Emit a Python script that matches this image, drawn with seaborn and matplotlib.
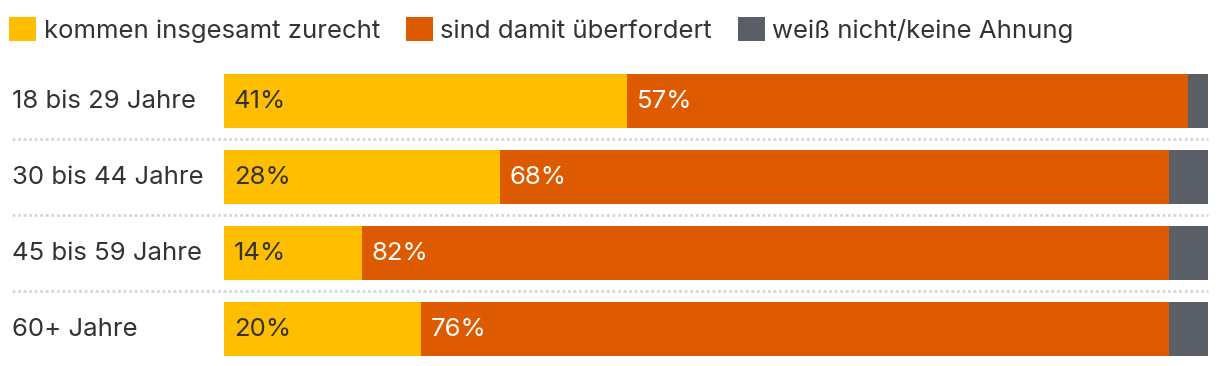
import matplotlib
matplotlib.use("Agg")
import matplotlib.pyplot as plt
from matplotlib.patches import Patch
import seaborn as sns
import pandas as pd
import numpy as np

# data
groups = ["18 bis 29 Jahre", "30 bis 44 Jahre", "45 bis 59 Jahre", "60+ Jahre"]
zurecht = [41, 28, 14, 20]
ueberfordert = [57, 68, 82, 76]
weiss_nicht = [2, 4, 4, 4]
series_names = ["kommen insgesamt zurecht", "sind damit überfordert", "weiß nicht/keine Ahnung"]
colors = ["#FFBE00", "#DD5A00", "#5A5E66"]

sns.set_theme(style="white")
plt.rcParams["font.family"] = ["Inter", "DejaVu Sans"]

W, H = 1220, 366
fig = plt.figure(figsize=(W / 100, H / 100), dpi=100)
# axes from x=224..1208 px, y=63..367 px (4 rows of 76 px)
ax = fig.add_axes([224 / W, (H - 367) / H, 984 / W, 304 / H])

df = pd.DataFrame({"group": groups, "a": zurecht, "b": ueberfordert, "c": weiss_nicht})
df["cum_a"] = df["a"]
df["cum_b"] = df["a"] + df["b"]
df["cum_c"] = df["a"] + df["b"] + df["c"]

bar_h = 54 / 76
for col, color in zip(["cum_c", "cum_b", "cum_a"], colors[::-1]):
    sns.barplot(data=df, x=col, y="group", orient="h", color=color,
                width=bar_h, saturation=1, ax=ax, linewidth=0)

ax.set_xlim(0, 100)
ax.set_ylim(3.5, -0.5)
ax.axis("off")

# value labels
fs = 18.5
for i in range(len(groups)):
    ax.text(1.0, i, f"{zurecht[i]}%", va="center", ha="left",
            fontsize=fs, color="#333333")
    ax.text(df["a"][i] + 1.0, i, f"{ueberfordert[i]}%", va="center", ha="left",
            fontsize=fs, color="white")
    # category label
    ax.text((12 - 224) / 984 * 100, i, groups[i], va="center", ha="left",
            fontsize=fs, color="#333333")

# dotted separators
for i in range(len(groups) - 1):
    ax.axhline(i + 0.5, xmin=(12 - 224) / 984, xmax=1, color="#d6d6d6",
               linewidth=2, linestyle=(0, (1, 1)), clip_on=False)

handles = [Patch(facecolor=c, edgecolor="none") for c in colors]
fig.legend(handles, series_names, loc="upper left", bbox_to_anchor=(4 / W, 1 - 12 / H),
           ncol=3, frameon=False, fontsize=fs, handlelength=1.05, handleheight=1.05,
           handletextpad=0.3, columnspacing=1.0, labelcolor="#333333",
           borderaxespad=0, borderpad=0.2)

fig.savefig("out.png", dpi=100)
